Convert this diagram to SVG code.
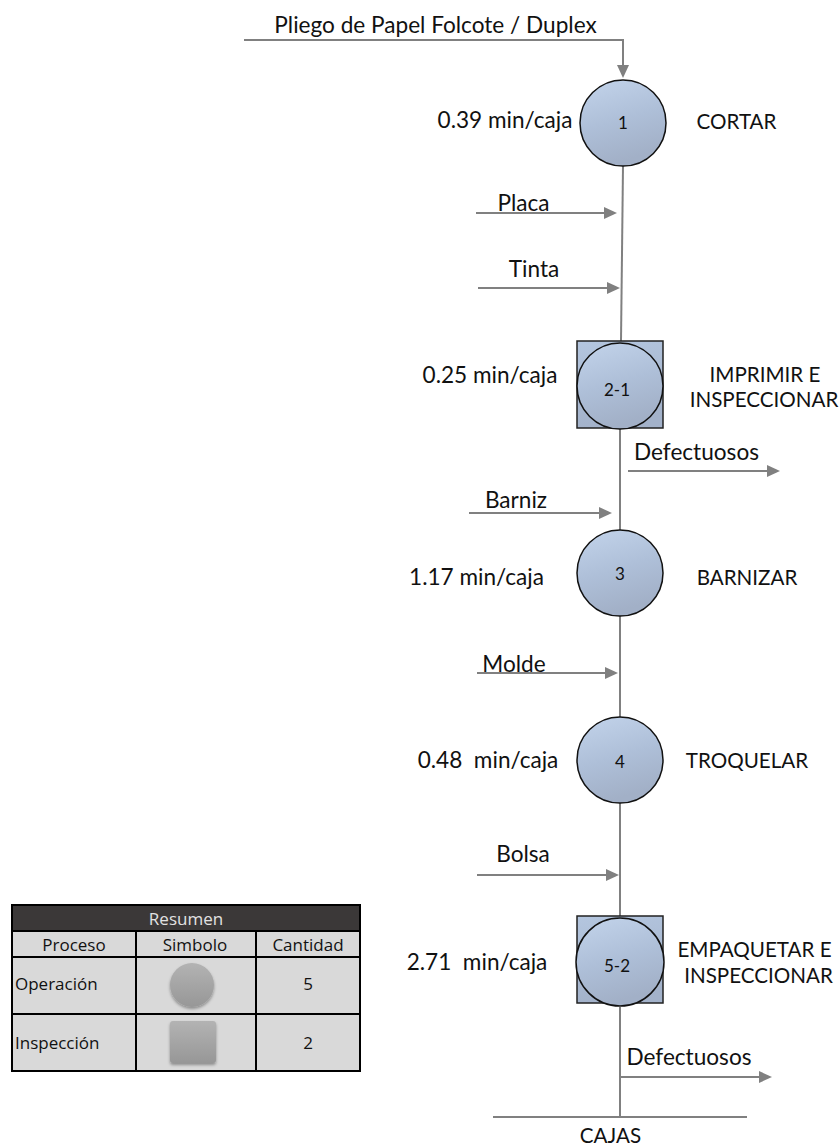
<svg xmlns="http://www.w3.org/2000/svg" width="840" height="1147" viewBox="0 0 840 1147">
  <defs>
    <linearGradient id="opFill" x1="0" y1="0" x2="0.3" y2="1">
      <stop offset="0" stop-color="#c3d4eb"/>
      <stop offset="0.55" stop-color="#aebfd8"/>
      <stop offset="1" stop-color="#a2b0c7"/>
    </linearGradient>
    <linearGradient id="boxFill" x1="0" y1="0" x2="0.2" y2="1">
      <stop offset="0" stop-color="#b4c6df"/>
      <stop offset="1" stop-color="#a3b2ca"/>
    </linearGradient>
    <linearGradient id="symFill" x1="0" y1="0" x2="0" y2="1">
      <stop offset="0" stop-color="#b3b3b3"/>
      <stop offset="1" stop-color="#979797"/>
    </linearGradient>
    <filter id="softShadow" x="-30%" y="-30%" width="160%" height="170%">
      <feDropShadow dx="0" dy="2" stdDeviation="1.6" flood-color="#000" flood-opacity="0.35"/>
    </filter>
    <marker id="arrow" markerUnits="userSpaceOnUse" markerWidth="14" markerHeight="13" refX="10" refY="6" orient="auto">
      <path d="M0,0 L13,6 L0,12 z" fill="#808080"/>
    </marker>
  </defs>
  <style>
    .flow { stroke: #808080; stroke-width: 2; fill: none; }
    .lbl { font-family: Lato, "Liberation Sans", sans-serif; font-size: 22.6px; fill: #111; text-anchor: middle; }
    .cap { font-family: Lato, "Liberation Sans", sans-serif; font-size: 20.6px; fill: #111; text-anchor: middle; }
    .num { font-family: Lato, "Liberation Sans", sans-serif; font-size: 17px; fill: #111; text-anchor: middle; }
    .op { fill: url(#opFill); stroke: #111; stroke-width: 1.5; }
    .box { fill: url(#boxFill); stroke: #222; stroke-width: 1.5; }
    .tbl { font-family: "Open Sans", "Noto Sans", sans-serif; font-size: 17px; fill: #111; }
    .cell { fill: #d9d9d9; stroke: #000; stroke-width: 2; }
  </style>

  <!-- connectors -->
  <g id="connectors">
    <!-- incoming sheet stock -->
    <polyline class="flow" points="244,40 623,40 623,75" marker-end="url(#arrow)"/>
    <!-- main process line -->
    <line class="flow" x1="623" y1="166" x2="621" y2="341"/>
    <line class="flow" x1="620" y1="429" x2="620" y2="530"/>
    <line class="flow" x1="620" y1="616" x2="620" y2="717"/>
    <line class="flow" x1="620" y1="803" x2="620" y2="916"/>
    <line class="flow" x1="620" y1="1007" x2="620" y2="1117"/>
    <!-- material inputs -->
    <line class="flow" x1="476" y1="213" x2="614" y2="213" marker-end="url(#arrow)"/>
    <line class="flow" x1="478" y1="288" x2="617" y2="288" marker-end="url(#arrow)"/>
    <line class="flow" x1="469" y1="513" x2="609" y2="513" marker-end="url(#arrow)"/>
    <line class="flow" x1="477" y1="673" x2="615" y2="673" marker-end="url(#arrow)"/>
    <line class="flow" x1="477" y1="875" x2="616" y2="875" marker-end="url(#arrow)"/>
    <!-- rejects -->
    <line class="flow" x1="628" y1="471" x2="777" y2="471" marker-end="url(#arrow)"/>
    <line class="flow" x1="620" y1="1077" x2="769" y2="1077" marker-end="url(#arrow)"/>
    <!-- finished goods -->
    <line class="flow" x1="493" y1="1117" x2="747" y2="1117"/>
  </g>

  <g id="conn-labels">
    <text class="lbl" x="435.5" y="33">Pliego de Papel Folcote / Duplex</text>
    <text class="lbl" x="523.5" y="211">Placa</text>
    <text class="lbl" x="534" y="277">Tinta</text>
    <text class="lbl" x="696.5" y="460">Defectuosos</text>
    <text class="lbl" x="516" y="508">Barniz</text>
    <text class="lbl" x="514" y="672">Molde</text>
    <text class="lbl" x="523" y="862">Bolsa</text>
    <text class="lbl" x="689" y="1065">Defectuosos</text>
    <text class="cap" x="610.5" y="1143">CAJAS</text>
  </g>

  <!-- operation 1 -->
  <g id="op1">
    <circle class="op" cx="623" cy="123" r="43"/>
    <text class="num" x="623" y="129">1</text>
    <text class="lbl" x="505" y="128">0.39 min/caja</text>
    <text class="cap" x="736.5" y="129">CORTAR</text>
  </g>

  <!-- combined operation / inspection 2-1 -->
  <g id="op2-insp1">
    <rect class="box" x="577" y="341" width="86" height="87"/>
    <circle class="op" cx="620" cy="386" r="43"/>
    <text class="num" x="617" y="396">2-1</text>
    <text class="lbl" x="490" y="383">0.25 min/caja</text>
    <text class="cap" x="765" y="382">IMPRIMIR E</text>
    <text class="cap" x="764" y="407">INSPECCIONAR</text>
  </g>

  <!-- operation 3 -->
  <g id="op3">
    <circle class="op" cx="620" cy="573" r="43"/>
    <text class="num" x="620" y="580">3</text>
    <text class="lbl" x="476.5" y="585">1.17 min/caja</text>
    <text class="cap" x="747" y="585">BARNIZAR</text>
  </g>

  <!-- operation 4 -->
  <g id="op4">
    <circle class="op" cx="620" cy="760" r="43"/>
    <text class="num" x="620" y="768">4</text>
    <text class="lbl" x="488" y="768" xml:space="preserve">0.48  min/caja</text>
    <text class="cap" x="747" y="768">TROQUELAR</text>
  </g>

  <!-- combined operation / inspection 5-2 -->
  <g id="op5-insp2">
    <rect class="box" x="577" y="916" width="86" height="87"/>
    <circle class="op" cx="620" cy="962" r="44"/>
    <text class="num" x="617" y="972">5-2</text>
    <text class="lbl" x="477" y="970" xml:space="preserve">2.71  min/caja</text>
    <text class="cap" x="754.5" y="957">EMPAQUETAR E</text>
    <text class="cap" x="758.5" y="983">INSPECCIONAR</text>
  </g>

  <!-- summary table -->
  <g id="summary">
    <rect x="12" y="905" width="348" height="26" fill="#3b3838" stroke="#000" stroke-width="2"/>
    <text class="tbl" x="186" y="925" text-anchor="middle" style="fill:#e2e2e2">Resumen</text>
    <rect class="cell" x="12" y="931" width="124" height="26"/>
    <rect class="cell" x="136" y="931" width="120" height="26"/>
    <rect class="cell" x="256" y="931" width="104" height="26"/>
    <rect class="cell" x="12" y="957" width="124" height="57"/>
    <rect class="cell" x="136" y="957" width="120" height="57"/>
    <rect class="cell" x="256" y="957" width="104" height="57"/>
    <rect class="cell" x="12" y="1014" width="124" height="57"/>
    <rect class="cell" x="136" y="1014" width="120" height="57"/>
    <rect class="cell" x="256" y="1014" width="104" height="57"/>
    <text class="tbl" x="74" y="951" text-anchor="middle">Proceso</text>
    <text class="tbl" x="195" y="951" text-anchor="middle">Simbolo</text>
    <text class="tbl" x="308" y="951" text-anchor="middle">Cantidad</text>
    <text class="tbl" x="15" y="990">Operación</text>
    <circle cx="192" cy="985" r="22" fill="url(#symFill)" filter="url(#softShadow)"/>
    <text class="tbl" x="308" y="990" text-anchor="middle">5</text>
    <text class="tbl" x="15" y="1049">Inspección</text>
    <rect x="170" y="1021" width="46" height="42" rx="3" fill="url(#symFill)" filter="url(#softShadow)"/>
    <text class="tbl" x="308" y="1049" text-anchor="middle">2</text>
  </g>
</svg>
